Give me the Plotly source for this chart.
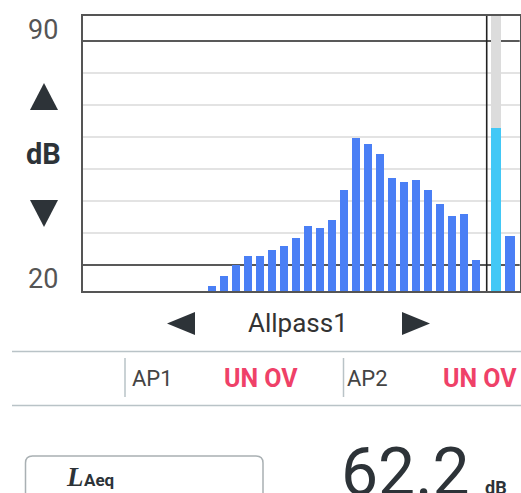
import plotly.graph_objects as go

# 1/3-octave band levels (dB), 33 bands; first 10 bands show no bar
band_levels = [None]*10 + [13.4, 16.6, 19.9, 22.8, 22.8, 24.7, 25.9, 28.4, 32.2, 31.6,
                           34.1, 43.4, 59.7, 57.8, 54.7, 47.2, 45.9, 46.6, 43.4, 39.1,
                           35.3, 35.9, 21.6]
band_index = list(range(len(band_levels)))
overall_a = 62.9      # cyan overall bar
overall_other = 29.0  # last blue bar
y_min, y_max = 11.875, 97.81
ref_lines = [20, 90]
grid_vals = [30, 40, 50, 60, 70, 80]
laeq_value = "62.2"

W, H = 521, 493
def px(x): return x / W
def py(y): return 1 - y / H

BLUE = "#4a7ff5"
CYAN = "#42c8f6"
TXT = "#2d3338"

fig = go.Figure()
fig.add_trace(go.Bar(x=band_index, y=band_levels, width=0.64, marker=dict(color=BLUE, line=dict(width=0)),
                     showlegend=False, hoverinfo="skip"))
fig.add_trace(go.Bar(x=[33.64], y=[y_max - y_min], base=[y_min], width=0.81,
                     marker=dict(color="#dcdcdc", line=dict(width=0)), showlegend=False, hoverinfo="skip"))
fig.add_trace(go.Bar(x=[33.64], y=[overall_a - y_min], base=[y_min], width=0.81,
                     marker=dict(color=CYAN, line=dict(width=0)), showlegend=False, hoverinfo="skip"))
fig.add_trace(go.Bar(x=[34.82], y=[overall_other - y_min], base=[y_min], width=0.83,
                     marker=dict(color=BLUE, line=dict(width=0)), showlegend=False, hoverinfo="skip"))

shapes = []
for v in ref_lines:
    shapes.append(dict(type="line", xref="x", yref="y", x0=-0.8, x1=35.7, y0=v, y1=v,
                       line=dict(color="#222", width=1.6), layer="below"))
shapes.append(dict(type="line", xref="x", yref="y", x0=32.88, x1=32.88, y0=y_min, y1=y_max,
                   line=dict(color="#222", width=1.6), layer="above"))
def tri(pts, color=TXT):
    d = "M " + " L ".join(f"{px(a)},{py(b)}" for a, b in pts) + " Z"
    return dict(type="path", xref="paper", yref="paper", path=d, fillcolor=color,
                line=dict(width=0))
shapes.append(tri([(44, 83), (58, 110), (30, 110)]))
shapes.append(tri([(30, 200), (58, 200), (44, 227)]))
shapes.append(tri([(195, 312), (195, 335), (167, 323.5)]))
shapes.append(tri([(402, 312), (402, 335), (430, 323.5)]))
SEP = "#b9c3c7"
for yy in [351.5, 405.5]:
    shapes.append(dict(type="line", xref="paper", yref="paper", x0=px(12), x1=px(521),
                       y0=py(yy), y1=py(yy), line=dict(color=SEP, width=1.5)))
for xx in [125, 343.5]:
    shapes.append(dict(type="line", xref="paper", yref="paper", x0=px(xx), x1=px(xx),
                       y0=py(358), y1=py(397), line=dict(color=SEP, width=1.5)))
x0, x1, y0, y1, r = 25.5, 263, 456, 500, 7
path = (f"M {px(x0+r)},{py(y0)} L {px(x1-r)},{py(y0)} Q {px(x1)},{py(y0)} {px(x1)},{py(y0+r)} "
        f"L {px(x1)},{py(y1)} L {px(x0)},{py(y1)} L {px(x0)},{py(y0+r)} Q {px(x0)},{py(y0)} {px(x0+r)},{py(y0)} Z")
shapes.append(dict(type="path", xref="paper", yref="paper", path=path,
                   line=dict(color="#a9b0b3", width=1.5), fillcolor="rgba(0,0,0,0)"))

FONT = "Roboto"
ann = []
def text(t, x, y, size, color=TXT, xanchor="center", family=FONT):
    ann.append(dict(text=t, x=px(x), y=py(y), xref="paper", yref="paper", showarrow=False,
                    xanchor=xanchor, yanchor="middle", font=dict(size=size, color=color, family=family)))
text("90", 43, 30, 27, "#555")
text("20", 43, 279, 27, "#555")
text("<b>dB</b>", 43, 154, 29)
text("Allpass1", 298, 323, 26, "#333")
text("AP1", 130, 378, 22, "#444", "left")
text("AP2", 345, 378, 22, "#444", "left")
text("<b>UN OV</b>", 222, 378, 25, "#ef4168", "left")
text("<b>UN OV</b>", 441, 378, 25, "#ef4168", "left")
text("<b><i>L</i></b>", 64, 477, 27, TXT, "left", "Liberation Serif")
text("<b>Aeq</b>", 82, 480, 17, TXT, "left")
text(laeq_value, 339, 472, 66, TXT, "left")
text("<b>dB</b>", 483, 487, 18, TXT, "left")

fig.update_layout(
    width=W, height=H, margin=dict(l=0, r=0, t=0, b=0),
    paper_bgcolor="white", plot_bgcolor="white",
    barmode="overlay", bargap=0, hovermode=False,
    shapes=shapes, annotations=ann,
    xaxis=dict(domain=[px(83), px(519.7)], range=[-0.7625, 35.629], showgrid=False,
               showticklabels=False, zeroline=False, showline=True, mirror=True,
               linecolor="#555", linewidth=1.5, ticks=""),
    yaxis=dict(domain=[py(291), py(16)], range=[y_min, y_max], tickvals=grid_vals,
               showgrid=True, gridcolor="#e3e3e3", gridwidth=1.5, showticklabels=False,
               zeroline=False, showline=True, mirror=True, linecolor="#555", linewidth=1.5,
               ticks=""),
)
fig.write_html("out.html", config={"displayModeBar": False},
               post_script="document.body.style.margin='0';document.body.style.overflow='hidden';")
